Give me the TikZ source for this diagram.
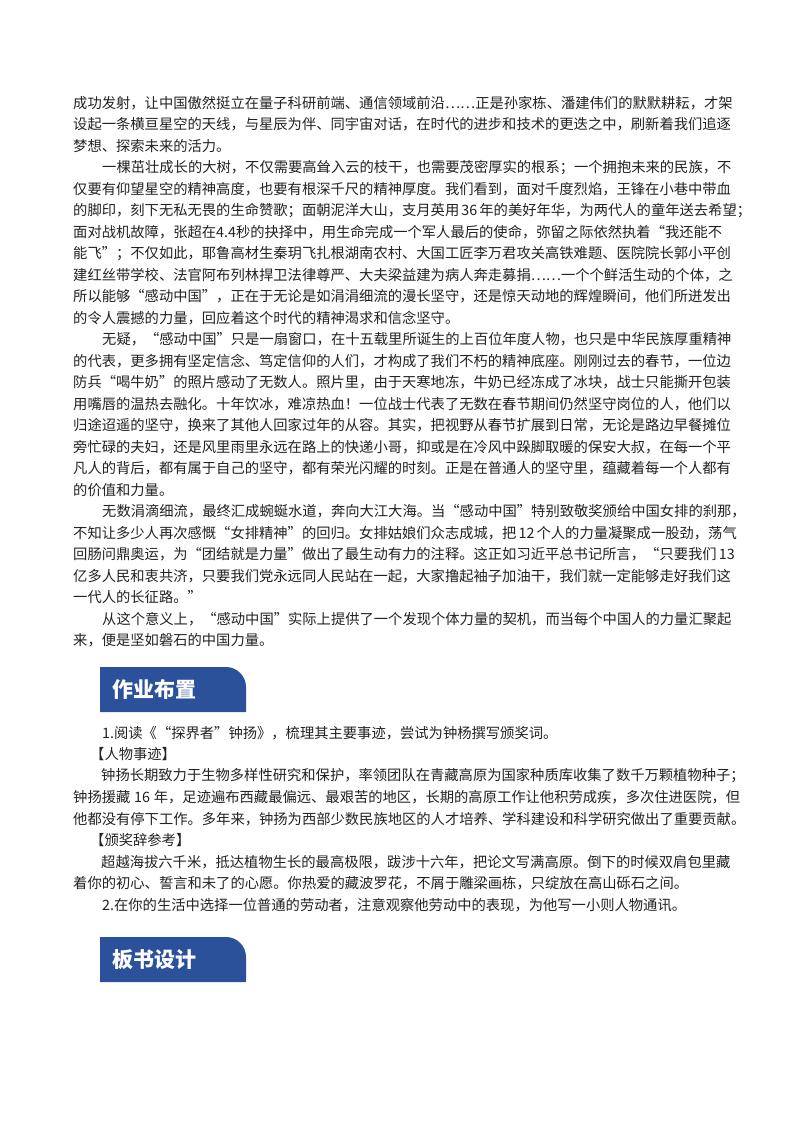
\documentclass[tikz,border=0pt]{standalone}
\usepackage{fontspec}
\setmainfont{Noto Sans CJK SC}
\newfontfamily\hdfont{Noto Sans CJK SC}
\XeTeXlinebreaklocale "zh"
\XeTeXlinebreakskip=0pt plus 3pt
\definecolor{hdblue}{HTML}{2B519B}
\definecolor{txt}{HTML}{222222}
\tikzset{ln/.style={anchor=west,inner sep=0pt,text=txt,font=\fontsize{14.3pt}{16pt}\selectfont},
 hd/.style={anchor=west,inner sep=0pt,text=white,font=\hdfont\bfseries\fontsize{21pt}{24pt}\selectfont}}
\newcommand\FL[3]{\node[ln] (#1) at (73,-#2) {\makebox[655pt][s]{#3}};}
\newcommand\FI[3]{\node[ln] (#1) at (102,-#2) {\makebox[626pt][s]{#3}};}
\newcommand\LL[3]{\node[ln] (#1) at (73,-#2) {#3};}
\newcommand\LI[3]{\node[ln] (#1) at (102,-#2) {#3};}
\newcommand\HL[3]{\node[ln] (#1) at (73,-#2) {\makebox[667pt][s]{#3}};}
\newcommand\HI[3]{\node[ln] (#1) at (101,-#2) {\makebox[639pt][s]{#3}};}
\begin{document}
\begin{tikzpicture}[x=1pt,y=1pt]
\useasboundingbox[fill=white] (0,0) rectangle (800,-1132);
\FL{a1}{103}{成功发射，让中国傲然挺立在量子科研前端、通信领域前沿……正是孙家栋、潘建伟们的默默耕耘，才架}
\FL{a2}{124.5}{设起一条横亘星空的天线，与星辰为伴、同宇宙对话，在时代的进步和技术的更迭之中，刷新着我们追逐}
\LL{a3}{146}{梦想、探索未来的活力。}
\FI{b1}{167.5}{一棵茁壮成长的大树，不仅需要高耸入云的枝干，也需要茂密厚实的根系；一个拥抱未来的民族，不}
\FL{b2}{189}{仅要有仰望星空的精神高度，也要有根深千尺的精神厚度。我们看到，面对千度烈焰，王锋在小巷中带血}
\FL{b3}{210.5}{的脚印，刻下无私无畏的生命赞歌；面朝泥洋大山，支月英用 36 年的美好年华，为两代人的童年送去希望；}
\FL{b4}{232}{面对战机故障，张超在4.4秒的抉择中，用生命完成一个军人最后的使命，弥留之际依然执着“我还能不}
\FL{b5}{253.5}{能飞”；不仅如此，耶鲁高材生秦玥飞扎根湖南农村、大国工匠李万君攻关高铁难题、医院院长郭小平创}
\FL{b6}{275}{建红丝带学校、法官阿布列林捍卫法律尊严、大夫梁益建为病人奔走募捐……一个个鲜活生动的个体，之}
\FL{b7}{296.5}{所以能够“感动中国”，正在于无论是如涓涓细流的漫长坚守，还是惊天动地的辉煌瞬间，他们所迸发出}
\LL{b8}{318}{的令人震撼的力量，回应着这个时代的精神渴求和信念坚守。}
\FI{c1}{339.5}{无疑，“感动中国”只是一扇窗口，在十五载里所诞生的上百位年度人物，也只是中华民族厚重精神}
\FL{c2}{361}{的代表，更多拥有坚定信念、笃定信仰的人们，才构成了我们不朽的精神底座。刚刚过去的春节，一位边}
\FL{c3}{382.5}{防兵“喝牛奶”的照片感动了无数人。照片里，由于天寒地冻，牛奶已经冻成了冰块，战士只能撕开包装}
\FL{c4}{404}{用嘴唇的温热去融化。十年饮冰，难凉热血！一位战士代表了无数在春节期间仍然坚守岗位的人，他们以}
\FL{c5}{425.5}{归途迢遥的坚守，换来了其他人回家过年的从容。其实，把视野从春节扩展到日常，无论是路边早餐摊位}
\FL{c6}{447}{旁忙碌的夫妇，还是风里雨里永远在路上的快递小哥，抑或是在冷风中跺脚取暖的保安大叔，在每一个平}
\FL{c7}{468.5}{凡人的背后，都有属于自己的坚守，都有荣光闪耀的时刻。正是在普通人的坚守里，蕴藏着每一个人都有}
\LL{c8}{490}{的价值和力量。}
\FI{d1}{511.5}{无数涓滴细流，最终汇成蜿蜒水道，奔向大江大海。当“感动中国”特别致敬奖颁给中国女排的刹那，}
\FL{d2}{533}{不知让多少人再次感慨“女排精神”的回归。女排姑娘们众志成城，把 12 个人的力量凝聚成一股劲，荡气}
\FL{d3}{554.5}{回肠问鼎奥运，为“团结就是力量”做出了最生动有力的注释。这正如习近平总书记所言，“只要我们 13}
\FL{d4}{576}{亿多人民和衷共济，只要我们党永远同人民站在一起，大家撸起袖子加油干，我们就一定能够走好我们这}
\LL{d5}{597.5}{一代人的长征路。”}
\FI{e1}{619}{从这个意义上，“感动中国”实际上提供了一个发现个体力量的契机，而当每个中国人的力量汇聚起}
\LL{e2}{640.5}{来，便是坚如磐石的中国力量。}
% header 1
\path[fill=hdblue] (100,-712) -- (100,-667) -- (226,-667) arc[start angle=90,end angle=0,radius=20] -- (246,-712) -- cycle;
\node[hd] (h1) at (112,-689.5) {作业布置};
\LI{f1}{733}{1.阅读《“探界者”钟扬》，梳理其主要事迹，尝试为钟杨撰写颁奖词。}
\node[ln] (f2) at (90,-754.5) {【人物事迹】};
\HI{f3}{776}{钟扬长期致力于生物多样性研究和保护，率领团队在青藏高原为国家种质库收集了数千万颗植物种子；}
\HL{f4}{797.5}{钟扬援藏 16 年，足迹遍布西藏最偏远、最艰苦的地区，长期的高原工作让他积劳成疾，多次住进医院，但}
\HL{f5}{819}{他都没有停下工作。多年来，钟扬为西部少数民族地区的人才培养、学科建设和科学研究做出了重要贡献。}
\node[ln] (f6) at (90,-840.5) {【颁奖辞参考】};
\node[ln] (f7) at (101,-862) {\makebox[632pt][s]{超越海拔六千米，抵达植物生长的最高极限，跋涉十六年，把论文写满高原。倒下的时候双肩包里藏}};
\LL{f8}{883.5}{着你的初心、誓言和未了的心愿。你热爱的藏波罗花，不屑于雕梁画栋，只绽放在高山砾石之间。}
\LI{f9}{905}{2.在你的生活中选择一位普通的劳动者，注意观察他劳动中的表现，为他写一小则人物通讯。}
% header 2
\path[fill=hdblue] (100,-982) -- (100,-937) -- (226,-937) arc[start angle=90,end angle=0,radius=20] -- (246,-982) -- cycle;
\node[hd] (h2) at (112,-959.5) {板书设计};
\end{tikzpicture}
\end{document}
